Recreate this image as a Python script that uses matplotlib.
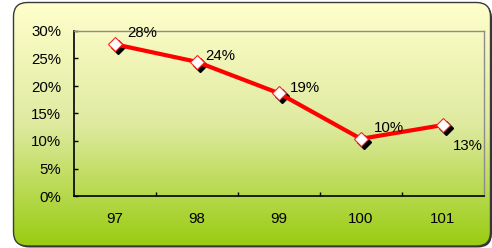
import numpy as np
import matplotlib
matplotlib.use("Agg")
import matplotlib.pyplot as plt
import matplotlib.transforms as mtransforms
from matplotlib.patches import FancyBboxPatch
from matplotlib.colors import LinearSegmentedColormap
from matplotlib.ticker import FuncFormatter, MultipleLocator, FixedLocator

# ----------------------------
# DATA
# ----------------------------
years = ["97", "98", "99", "100", "101"]
rates = [0.276, 0.244, 0.187, 0.104, 0.129]
# label offsets (pixels) as placed in the original
label_dx = [13, 9, 11, 13, 10]
label_dy = [11, 6, 5, 11, -21]

plt.rcParams["font.family"] = ["Liberation Sans", "DejaVu Sans"]
FS = 10.8

W, H = 492, 248
fig = plt.figure(figsize=(W / 100, H / 100), dpi=100)
fig.patch.set_facecolor("white")

# ----------------------------
# BACKGROUND BOX (gradient, rounded)
# ----------------------------
bg = fig.add_axes([0, 0, 1, 1])
bg.set_xlim(0, W)
bg.set_ylim(H, 0)
bg.axis("off")

x0, y0, x1, y1 = 13.5, 2.5, 490.5, 246
rad = 14

shadow = FancyBboxPatch((x0 + 1.5, y0 + 1.5), x1 - x0, y1 - y0,
                        boxstyle=f"round,pad=0,rounding_size={rad}",
                        facecolor="#333333", edgecolor="none", zorder=0)
bg.add_patch(shadow)

box = FancyBboxPatch((x0, y0), x1 - x0, y1 - y0,
                     boxstyle=f"round,pad=0,rounding_size={rad}",
                     facecolor="none", edgecolor="#3a3a3a", linewidth=1.0, zorder=3)
bg.add_patch(box)

cmap = LinearSegmentedColormap.from_list("bggrad", ["#ffffcc", "#dfeaa0", "#99cc11"])
grad = np.linspace(0, 1, 256).reshape(-1, 1)
im = bg.imshow(grad, cmap=cmap, aspect="auto", extent=(x0, x1, y1, y0), zorder=1)
clip = FancyBboxPatch((x0, y0), x1 - x0, y1 - y0,
                      boxstyle=f"round,pad=0,rounding_size={rad}",
                      facecolor="none", edgecolor="none", transform=bg.transData)
im.set_clip_path(clip)

# ----------------------------
# PLOT AREA
# ----------------------------
pl, pt, pr, pb = 73.5, 31, 484, 196
ax = fig.add_axes([pl / W, 1 - pb / H, (pr - pl) / W, (pb - pt) / H])
ax.patch.set_alpha(0)

x = np.arange(len(years))

# marker shadow
shadow_tr = mtransforms.offset_copy(ax.transData, fig=fig, x=3, y=-3, units="dots")
ax.plot(x, rates, linestyle="none", marker="D", markersize=7,
        markerfacecolor="black", markeredgecolor="black", transform=shadow_tr,
        zorder=2, clip_on=False)
ax.plot(x, rates, color="#ff0000", linewidth=3, zorder=3, clip_on=False)
ax.plot(x, rates, linestyle="none", marker="D", markersize=7,
        markerfacecolor="white", markeredgecolor="#ff2020", markeredgewidth=0.8,
        zorder=4, clip_on=False)

for xi, v, dx, dy in zip(x, rates, label_dx, label_dy):
    ax.annotate(f"{v * 100:.0f}%", (xi, v), xytext=(dx, dy), textcoords="offset pixels",
                ha="left", va="center", fontsize=FS, color="black", zorder=5)

ax.set_xlim(-0.5, len(years) - 0.5)
ax.set_ylim(0, 0.30)

ax.yaxis.set_major_locator(MultipleLocator(0.05))
ax.yaxis.set_major_formatter(FuncFormatter(lambda v, _: f"{v * 100:.0f}%"))
ax.tick_params(axis="y", direction="in", length=3, width=1, pad=9, labelsize=FS, colors="black")

ax.set_xticks(x)
ax.set_xticklabels(years)
ax.xaxis.set_minor_locator(FixedLocator(np.arange(0.5, len(years) - 1, 1.0)))
ax.tick_params(axis="x", which="major", length=0, pad=11.5, labelsize=FS)
ax.tick_params(axis="x", which="minor", direction="in", length=3, width=1)

for side in ["left", "bottom"]:
    ax.spines[side].set_color("black")
    ax.spines[side].set_linewidth(1.2)
for side in ["top", "right"]:
    ax.spines[side].set_color("#8c8c8c")
    ax.spines[side].set_linewidth(1.0)

fig.savefig("out.png", dpi=100)
